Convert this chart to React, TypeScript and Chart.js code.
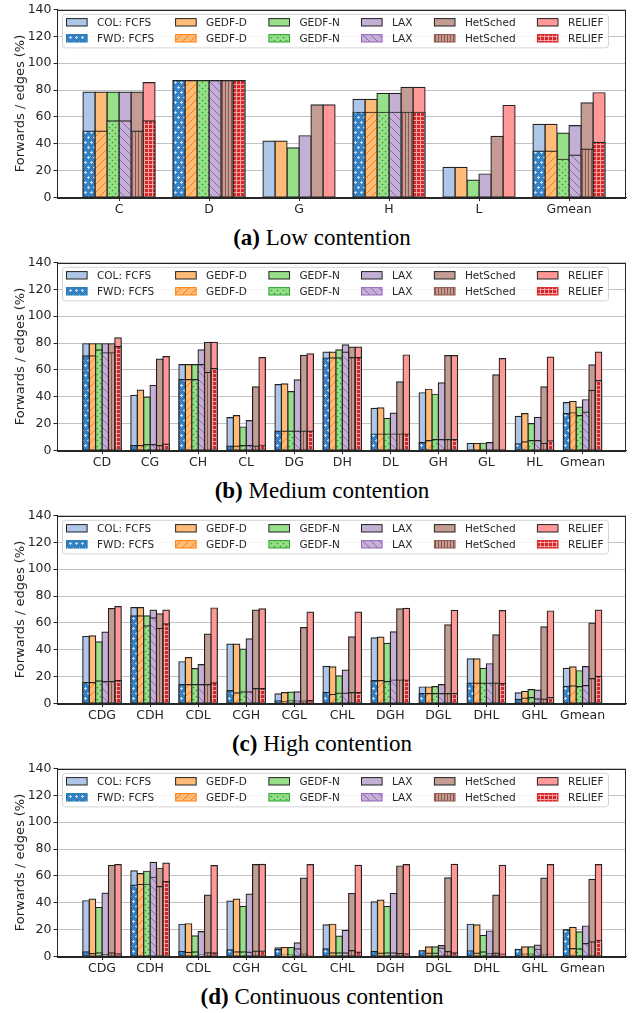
import React, { useEffect, useRef } from 'react';
import { Chart, registerables } from 'chart.js';

Chart.register(...registerables);

// ---------------- data ----------------
const methods = ['FCFS', 'GEDF-D', 'GEDF-N', 'LAX', 'HetSched', 'RELIEF'];
const lightColors = ['#aec7e8', '#ffbb78', '#98df8a', '#c5b0d5', '#c49c94', '#ff9896'];
const darkColors = ['#1f77b4', '#ff7f0e', '#2ca02c', '#9467bd', '#8c564b', '#d62728'];
const yTicks = [0, 20, 40, 60, 80, 100, 120, 140];

// (a) Low contention — rows: FCFS, GEDF-D, GEDF-N, LAX, HetSched, RELIEF
const lowCats = ['C', 'D', 'G', 'H', 'L', 'Gmean'];
const lowCol = [
  [78.5, 87, 42, 73, 22.5, 54.5],
  [78.5, 87, 42, 73, 22.5, 54.5],
  [78.5, 87, 37, 77.5, 13, 48],
  [78.5, 87, 46, 77.5, 17.5, 53.5],
  [78.5, 87, 69, 82, 45.5, 70.5],
  [85.5, 87, 69, 82, 68.5, 78],
];
const lowFwd = [
  [49.5, 87, 0, 63.5, 0, 34.5],
  [49.5, 87, 0, 63.5, 0, 34.5],
  [57, 87, 0, 63.5, 0, 28.5],
  [57, 87, 0, 63.5, 0, 31.5],
  [49.5, 87, 0, 63.5, 0, 36],
  [57, 87, 0, 63.5, 0, 41],
];

// (b) Medium contention
const medCats = ['CD', 'CG', 'CH', 'CL', 'DG', 'DH', 'DL', 'GH', 'GL', 'HL', 'Gmean'];
const medCol = [
  [79.5, 41, 64, 24.5, 49, 73.3, 31.3, 43, 5.2, 25.4, 35.6],
  [79.5, 45, 64, 26, 49.6, 73.3, 31.8, 45.6, 5.2, 27.4, 36.5],
  [79.5, 39.7, 64, 17.5, 43.9, 75, 23.9, 41.9, 5.4, 20, 32.3],
  [79.5, 48.4, 75, 22.2, 52.6, 78.7, 27.9, 50.4, 5.9, 24.7, 37.8],
  [79.5, 68.1, 80.5, 47.4, 70.8, 77, 51.1, 70.6, 56.3, 47.4, 63.7],
  [83.8, 69.9, 80.5, 69.1, 72, 77, 71.1, 70.6, 68.4, 69.6, 73.3],
];
const medFwd = [
  [70.4, 3.7, 52.8, 3.2, 14.5, 68.9, 12.3, 5.9, 0, 4.9, 27.4],
  [70.4, 3.7, 52.8, 3.2, 14.5, 69, 12.3, 7.4, 0, 6.4, 28.1],
  [75, 4.4, 52.8, 3.7, 14.5, 69, 12.3, 8.1, 0, 7.4, 25.9],
  [72.8, 4.4, 63.9, 3.7, 14.5, 73.3, 12.3, 8.1, 0, 7.4, 28.6],
  [72.8, 3.7, 58.2, 3.2, 14.5, 69.1, 12.3, 8.1, 0, 5.2, 44.7],
  [77.3, 4.7, 61, 3.9, 14.5, 69.1, 12.3, 8.1, 0, 7.2, 52.1],
];

// (c) High contention
const highCats = ['CDG', 'CDH', 'CDL', 'CGH', 'CGL', 'CHL', 'DGH', 'DGL', 'DHL', 'GHL', 'Gmean'];
const highCol = [
  [49.9, 71.4, 31.1, 44.2, 7.2, 27.7, 48.9, 12.3, 33.3, 7.9, 26.2],
  [50.4, 71.4, 34.1, 44.2, 8.1, 27.2, 49.4, 12.3, 33.3, 9.1, 27.2],
  [45.9, 65.2, 25.9, 40.5, 8.4, 20.5, 44.7, 12.6, 26.2, 10.4, 24.4],
  [53.1, 69.6, 28.9, 48.1, 8.6, 24.9, 53.3, 14.1, 29.6, 9.9, 27.4],
  [70.6, 66.7, 51.6, 69.6, 56.5, 49.6, 70.4, 58.5, 51.1, 57, 59.8],
  [72.1, 69.6, 71.1, 70.4, 68.1, 68.1, 70.9, 69.4, 69.1, 68.9, 69.6],
];
const highFwd = [
  [15.6, 65.2, 14.1, 9.6, 2, 8.1, 17, 7.4, 15.1, 3, 12.8],
  [15.6, 65.2, 14.1, 7.9, 1.5, 6.7, 17, 7.4, 15.1, 4, 13.1],
  [16.8, 57.8, 14.1, 8.6, 2, 7.7, 16.3, 7.4, 15.1, 4.4, 12.6],
  [16.3, 63.7, 14.1, 8.6, 1.7, 7.7, 17.5, 7.4, 15.1, 3.5, 13.3],
  [16.3, 56, 14.1, 11.1, 1.7, 8.1, 17.5, 7.4, 15.1, 3.2, 18.5],
  [17, 59.3, 15.3, 11.1, 2.2, 8.1, 17.5, 7.4, 14.8, 4.4, 20.2],
];

// (d) Continuous contention
const contCats = ['CDG', 'CDH', 'CDL', 'CGH', 'CGL', 'CHL', 'DGH', 'DGL', 'DHL', 'GHL', 'Gmean'];
const contCol = [
  [41.5, 63.7, 24, 41.2, 6.4, 23.5, 40.7, 4.2, 24, 5.4, 19.8],
  [42.7, 61.7, 24.4, 42.7, 6.7, 24, 42, 7.2, 23.5, 7.2, 21.7],
  [36.5, 63.5, 15.3, 37.3, 6.7, 15.1, 37.3, 7.2, 15.8, 7.2, 18.3],
  [47.2, 70.1, 18.5, 46.4, 10.1, 19.5, 46.9, 8.1, 19, 8.4, 22.7],
  [67.9, 65.7, 45.7, 68.4, 58.3, 46.9, 67.4, 58.5, 45.7, 58.3, 57.5],
  [68.4, 69.6, 67.7, 68.6, 68.4, 67.9, 68.4, 68.6, 67.9, 68.4, 68.4],
];
const contFwd = [
  [3.5, 53.1, 3.7, 4.9, 5.2, 5.7, 3.7, 4.2, 4.2, 5.4, 19.8],
  [2.2, 53.6, 3, 3.5, 1, 2.7, 2.5, 2.5, 2.5, 1.7, 5.9],
  [2.7, 53.8, 3.5, 3.5, 1.2, 2.7, 2.7, 2.5, 3.5, 1.7, 5.7],
  [1.5, 59, 1.2, 3.2, 5.7, 2.7, 2.7, 6.2, 2, 5.4, 9.6],
  [2.7, 52.1, 2.7, 4, 1.7, 4.4, 2.2, 3.7, 2.5, 1.2, 10.9],
  [2, 55.8, 2.7, 4, 0.5, 3.2, 2, 2.7, 1.7, 1, 12.1],
];

// ---------------- styling helpers ----------------
const FONT = "'DejaVu Sans', 'Noto Sans', sans-serif";
const TEXT = '#262626';
const CANVAS_H = 222;
const AREA_BOTTOM = 197.5;

function makePattern(i: number): CanvasPattern | string {
  const c = document.createElement('canvas');
  const ctx = c.getContext('2d');
  if (!ctx) return darkColors[i];
  if (i === 0) {
    c.width = 6; c.height = 10;
    ctx.fillStyle = '#3581c3'; ctx.fillRect(0, 0, 6, 10);
    ctx.fillStyle = '#c6dcf2';
    const star = (x: number, y: number) => {
      ctx.fillRect(x, y, 1, 1); ctx.fillRect(x - 1, y, 1, 1); ctx.fillRect(x + 1, y, 1, 1);
      ctx.fillRect(x, y - 1, 1, 1); ctx.fillRect(x, y + 1, 1, 1);
    };
    star(1, 2); star(4, 7);
  } else if (i === 1 || i === 3) {
    c.width = 8; c.height = 8;
    ctx.fillStyle = lightColors[i]; ctx.fillRect(0, 0, 8, 8);
    ctx.strokeStyle = darkColors[i]; ctx.lineWidth = 1;
    ctx.beginPath();
    if (i === 1) {
      ctx.moveTo(-1, 9); ctx.lineTo(9, -1);
      ctx.moveTo(-1, 1); ctx.lineTo(1, -1);
      ctx.moveTo(7, 9); ctx.lineTo(9, 7);
    } else {
      ctx.moveTo(-1, -1); ctx.lineTo(9, 9);
      ctx.moveTo(7, -1); ctx.lineTo(9, 1);
      ctx.moveTo(-1, 7); ctx.lineTo(1, 9);
    }
    ctx.stroke();
  } else if (i === 2) {
    c.width = 6; c.height = 6;
    ctx.fillStyle = lightColors[2]; ctx.fillRect(0, 0, 6, 6);
    ctx.fillStyle = darkColors[2];
    ctx.beginPath(); ctx.arc(1.5, 1.5, 0.85, 0, Math.PI * 2); ctx.fill();
    ctx.beginPath(); ctx.arc(4.5, 4.5, 0.85, 0, Math.PI * 2); ctx.fill();
  } else if (i === 4) {
    c.width = 3; c.height = 1;
    ctx.fillStyle = lightColors[4]; ctx.fillRect(0, 0, 3, 1);
    ctx.fillStyle = darkColors[4]; ctx.fillRect(0, 0, 1, 1);
  } else {
    c.width = 4; c.height = 4;
    ctx.fillStyle = '#d62728'; ctx.fillRect(0, 0, 4, 4);
    ctx.fillStyle = '#f3a5a5'; ctx.fillRect(0, 0, 4, 1); ctx.fillRect(0, 0, 1, 4);
  }
  return ctx.createPattern(c, 'repeat') || darkColors[i];
}

const legendColX = [66.5, 175.6, 268.9, 361.5, 434.4, 537.4];
const legendRowY = [22.3, 38.3];

const legendPlugin = {
  id: 'mplLegend',
  afterDatasetsDraw(chart: any) {
    const ctx = chart.ctx as CanvasRenderingContext2D;
    ctx.save();
    const bx = 62.5, by = 14.3, bw = 546, bh = 33.6, r = 3;
    ctx.beginPath();
    ctx.moveTo(bx + r, by);
    ctx.lineTo(bx + bw - r, by); ctx.arcTo(bx + bw, by, bx + bw, by + r, r);
    ctx.lineTo(bx + bw, by + bh - r); ctx.arcTo(bx + bw, by + bh, bx + bw - r, by + bh, r);
    ctx.lineTo(bx + r, by + bh); ctx.arcTo(bx, by + bh, bx, by + bh - r, r);
    ctx.lineTo(bx, by + r); ctx.arcTo(bx, by, bx + r, by, r);
    ctx.closePath();
    ctx.fillStyle = 'rgba(255,255,255,0.85)';
    ctx.fill();
    ctx.strokeStyle = '#d4d4d4'; ctx.lineWidth = 1; ctx.stroke();

    ctx.font = `10.5px ${FONT}`;
    ctx.textBaseline = 'middle';
    chart.data.datasets.forEach((ds: any, k: number) => {
      const col = Math.floor(k / 2);
      const row = k % 2;
      const x = legendColX[col];
      const y = legendRowY[row];
      ctx.fillStyle = ds.backgroundColor;
      ctx.fillRect(x, y - 3.7, 20.6, 7.4);
      ctx.strokeStyle = row === 0 ? '#222222' : darkColors[col];
      ctx.lineWidth = 1;
      ctx.strokeRect(x, y - 3.7, 20.6, 7.4);
      ctx.fillStyle = TEXT;
      ctx.fillText(ds.label, x + 30.5, y + 0.5);
    });
    ctx.restore();
  },
};

const framePlugin = {
  id: 'frame',
  afterDraw(chart: any) {
    const { ctx, chartArea } = chart;
    ctx.save();
    ctx.strokeStyle = TEXT;
    ctx.lineWidth = 1;
    const l = Math.round(chartArea.left) + 0.5;
    const t = Math.round(chartArea.top) + 0.5;
    const rr = Math.round(chartArea.right) - 0.5;
    const b = Math.round(chartArea.bottom) + 0.5;
    ctx.strokeRect(l, t, rr - l, b - t);
    ctx.restore();
  },
};

type PanelProps = {
  cats: string[];
  col: number[][];
  fwd: number[][];
  xmin: number;
  xmax: number;
};

function Panel({ cats, col, fwd, xmin, xmax }: PanelProps) {
  const ref = useRef<HTMLCanvasElement>(null);
  useEffect(() => {
    if (!ref.current) return;
    const patterns = methods.map((_, i) => makePattern(i));
    const datasets: any[] = [];
    methods.forEach((m, i) => {
      const common = {
        stack: m,
        borderColor: '#222222',
        borderWidth: 1.2,
        inflateAmount: 0.6,
        borderSkipped: false,
        categoryPercentage: 0.8,
        barPercentage: 1,
      };
      datasets.push({
        ...common,
        label: i === 0 ? 'COL: FCFS' : m,
        data: cats.map((_, k) => ({ x: k, y: col[i][k] })),
        backgroundColor: lightColors[i],
        order: 1,
      });
      datasets.push({
        ...common,
        label: i === 0 ? 'FWD: FCFS' : m,
        data: cats.map((_, k) => ({ x: k, y: fwd[i][k] })),
        backgroundColor: patterns[i],
        order: 0,
      });
    });

    const chart = new Chart(ref.current, {
      type: 'bar',
      data: { datasets },
      options: {
        responsive: false,
        animation: false,
        devicePixelRatio: 1,
        layout: { padding: { top: 9, right: 18, left: 0, bottom: 0 } },
        plugins: { legend: { display: false }, tooltip: { enabled: false } },
        scales: {
          x: {
            type: 'linear',
            min: xmin,
            max: xmax,
            offset: false,
            grid: {
              display: true,
              drawOnChartArea: false,
              drawTicks: true,
              tickLength: 3.5,
              tickColor: TEXT,
              offset: false,
            },
            border: { display: true, color: TEXT, width: 1 },
            ticks: {
              autoSkip: false,
              maxRotation: 0,
              minRotation: 0,
              padding: 1,
              color: TEXT,
              font: { family: FONT, size: 12.5 },
              callback: (v: any) => cats[v] ?? '',
            },
            afterBuildTicks: (axis: any) => {
              axis.ticks = cats.map((_, i) => ({ value: i }));
            },
            afterFit: (axis: any) => {
              axis.height = CANVAS_H - AREA_BOTTOM;
            },
          },
          y: {
            type: 'linear',
            min: 0,
            max: 140,
            stacked: false,
            afterBuildTicks: (axis: any) => {
              axis.ticks = yTicks.map((v) => ({ value: v }));
            },
            ticks: {
              padding: 2,
              color: TEXT,
              font: { family: FONT, size: 12.5 },
            },
            grid: { color: '#c2c2c2', lineWidth: 1, tickLength: 3.5, tickColor: TEXT },
            border: { display: true, color: TEXT, width: 1 },
            title: {
              display: true,
              text: 'Forwards / edges (%)',
              color: TEXT,
              font: { family: FONT, size: 13 },
              padding: { top: 12.7, bottom: 0 },
            },
            afterFit: (axis: any) => {
              axis.width = 57;
            },
          },
        },
      } as any,
      plugins: [legendPlugin, framePlugin],
    });
    return () => chart.destroy();
  }, [cats, col, fwd, xmin, xmax]);

  return <canvas ref={ref} width={644} height={CANVAS_H} style={{ display: 'block' }} />;
}

const panels = [
  { cats: lowCats, col: lowCol, fwd: lowFwd, xmin: -0.689, xmax: 5.633, letter: '(a)', caption: 'Low contention' },
  { cats: medCats, col: medCol, fwd: medFwd, xmin: -0.937, xmax: 10.905, letter: '(b)', caption: 'Medium contention' },
  { cats: highCats, col: highCol, fwd: highFwd, xmin: -0.937, xmax: 10.905, letter: '(c)', caption: 'High contention' },
  { cats: contCats, col: contCol, fwd: contFwd, xmin: -0.937, xmax: 10.905, letter: '(d)', caption: 'Continuous contention' },
];

export default function App() {
  return (
    <div style={{ position: 'absolute', left: 0, top: 0, width: 644, height: 1013, background: '#ffffff' }}>
      {panels.map((p, i) => (
        <div key={i} style={{ position: 'absolute', left: 0, top: i * 253, width: 644, height: 253 }}>
          <Panel cats={p.cats} col={p.col} fwd={p.fwd} xmin={p.xmin} xmax={p.xmax} />
          <div
            style={{
              position: 'absolute',
              left: 0,
              top: 224,
              width: 644,
              textAlign: 'center',
              fontFamily: "'Liberation Serif', 'Times New Roman', serif",
              fontSize: 23,
              lineHeight: '28px',
              color: '#000',
              whiteSpace: 'nowrap',
            }}
          >
            <b>{p.letter}</b> {p.caption}
          </div>
        </div>
      ))}
    </div>
  );
}
